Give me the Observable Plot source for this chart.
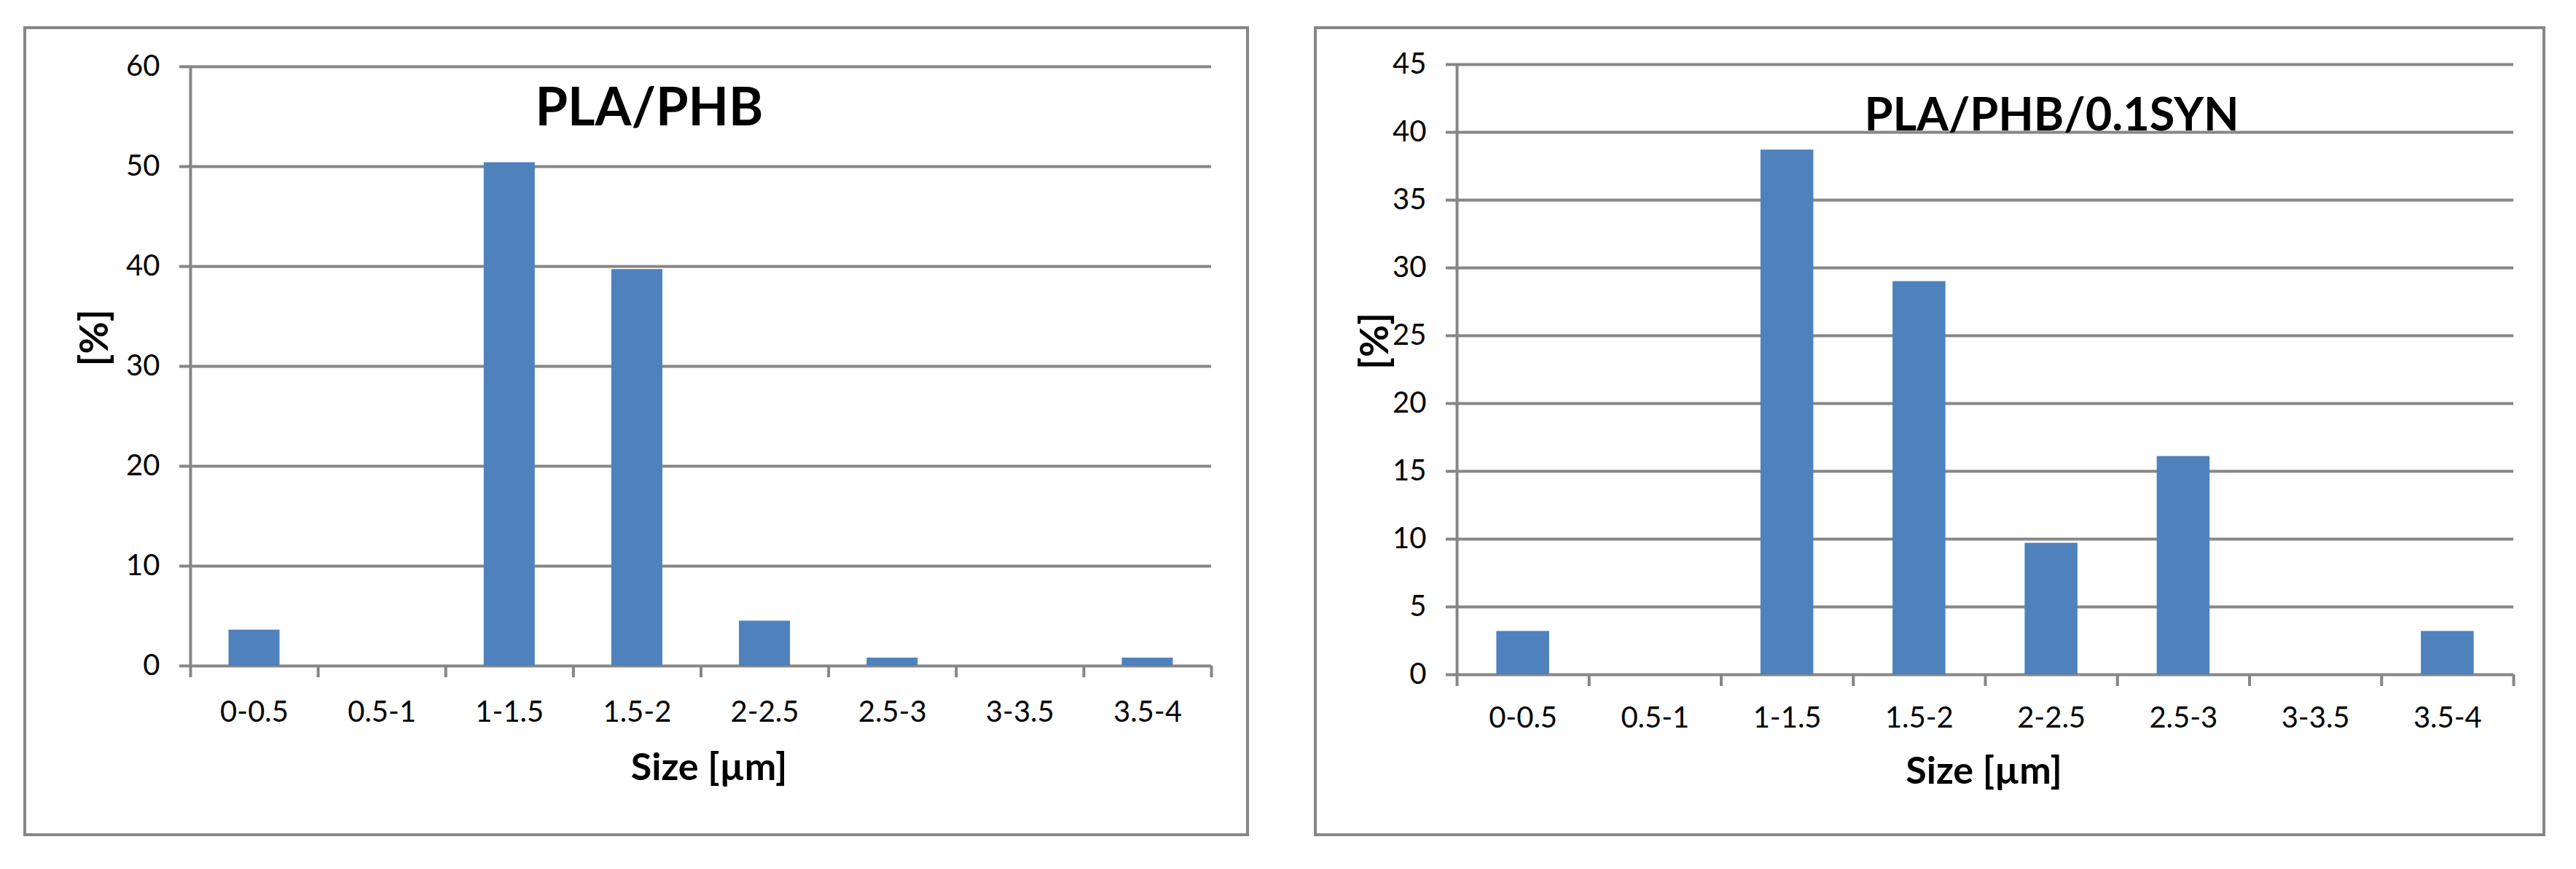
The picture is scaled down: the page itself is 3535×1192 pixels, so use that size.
<!DOCTYPE html>
<html>
<head>
<meta charset="utf-8">
<script src="https://cdn.jsdelivr.net/npm/d3@7"></script>
<script src="https://cdn.jsdelivr.net/npm/@observablehq/plot@0.6"></script>
<style>
  html, body { margin: 0; padding: 0; background: #ffffff; }
  #page { position: relative; width: 3535px; height: 1192px; background: #ffffff; overflow: hidden; font-family: Lato, "Open Sans", sans-serif; }
  .panel { position: absolute; box-sizing: border-box; border: 4px solid #868686; }
  .chart { position: absolute; }
</style>
</head>
<body>
<div id="page">
  <div class="panel" style="left:32px; top:36px; width:1682px; height:1111px;"></div>
  <div class="panel" style="left:1803px; top:36px; width:1690px; height:1111px;"></div>
  <div class="chart" id="left" style="left:40px; top:40px;"></div>
  <div class="chart" id="right" style="left:1840px; top:40px;"></div>
</div>
<script>
// ---- data ----
const sizeBins = ["0-0.5", "0.5-1", "1-1.5", "1.5-2", "2-2.5", "2.5-3", "3-3.5", "3.5-4"];
const plaPhb = [3.6, 0, 50.4, 39.7, 4.5, 0.8, 0, 0.8];
const plaPhbSyn = [3.2, 0, 38.7, 29.0, 9.7, 16.1, 0, 3.2];
const yTicksLeft = [0, 10, 20, 30, 40, 50, 60];
const yTicksRight = [0, 5, 10, 15, 20, 25, 30, 35, 40, 45];
const titleLeft = "PLA/PHB";
const titleRight = "PLA/PHB/0.1SYN";
const xTitle = "Size [µm]";
const yTitle = "[%]";

// ---- style ----
const BAR = "#4F81BD";
const GRID = "#868686";
const GAP = 0.3; // gap on each side of a bar, as a fraction of the category

function chart(values, yTicks, title, o) {
  const rows = sizeBins.map((bin, i) => ({bin, i, value: values[i]}));
  const edges = d3.range(sizeBins.length + 1);
  const mids = sizeBins.map((_, i) => i + 0.5);
  return Plot.plot({
    width: o.width,
    height: o.height,
    marginLeft: o.ml,
    marginRight: o.mr,
    marginTop: o.mt,
    marginBottom: o.mb,
    style: {fontFamily: "Lato, 'Open Sans', sans-serif", fontSize: "40px", color: "#000", background: "transparent", overflow: "visible"},
    x: {domain: [0, sizeBins.length]},
    y: {domain: [yTicks[0], yTicks[yTicks.length - 1]]},
    marks: [
      Plot.gridY(yTicks, {stroke: GRID, strokeWidth: 4, strokeOpacity: 1}),
      Plot.ruleX([0], {stroke: GRID, strokeWidth: 4}),
      Plot.axisY(yTicks, {tickSize: 15, tickPadding: 27, stroke: GRID, strokeWidth: 4, fontSize: 40, label: null, fill: "#000"}),
      Plot.axisX(edges, {tickSize: 16, tickFormat: () => "", stroke: GRID, strokeWidth: 4, label: null}),
      Plot.axisX(mids, {tickSize: 0, tickPadding: o.xPad, tickFormat: (v) => sizeBins[Math.floor(v)], fontSize: 40, label: null, fill: "#000"}),
      Plot.rectY(rows, {x1: (d) => d.i + GAP, x2: (d) => d.i + 1 - GAP, y: "value", fill: BAR}),
      Plot.text([title], {frameAnchor: "top", lineAnchor: "middle", dx: o.tdx, dy: o.tdy, fontSize: o.tfs, fontWeight: "bold", fill: "#000"}),
      Plot.text([xTitle], {frameAnchor: "bottom", lineAnchor: "middle", dx: o.xdx, dy: o.xdy, fontSize: 52, fontWeight: "bold", fill: "#000"}),
      Plot.text([yTitle], {frameAnchor: "left", lineAnchor: "middle", dx: o.ydx, rotate: -90, fontSize: 54, fontWeight: "bold", fill: "#000"})
    ]
  });
}

document.getElementById("left").append(chart(plaPhb, yTicksLeft, titleLeft, {
  width: 1660, height: 1100, ml: 221, mr: 38, mt: 51, mb: 227,
  xPad: 48, tdx: -71, tdy: 57, tfs: 72, xdx: 11, xdy: 140, ydx: -131
}));
document.getElementById("right").append(chart(plaPhbSyn, yTicksRight, titleRight, {
  width: 1640, height: 1100, ml: 159, mr: 31, mt: 48, mb: 215,
  xPad: 44, tdx: 91, tdy: 70, tfs: 63, xdx: -2, xdy: 133, ydx: -112
}));
</script>
</body>
</html>
